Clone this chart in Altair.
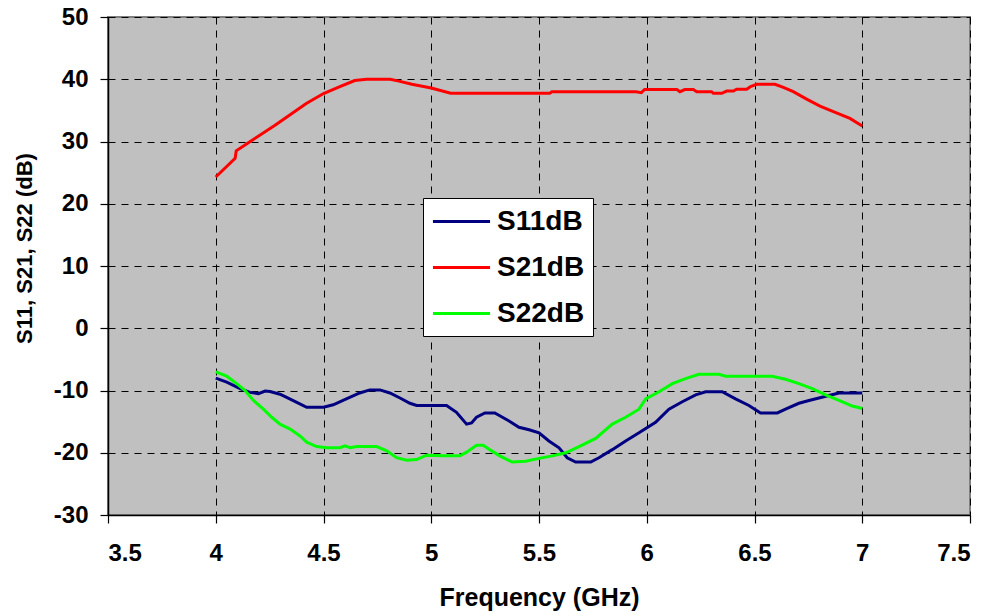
import altair as alt
import pandas as pd

# ---- data ----
series_names = ["S11dB", "S21dB", "S22dB"]
series_colors = ["#000080", "#FF0000", "#00FF00"]

s11_freq = [4.0, 4.051, 4.113, 4.159, 4.198, 4.229, 4.252, 4.298, 4.329, 4.376, 4.422, 4.5,
            4.545, 4.606, 4.668, 4.715, 4.762, 4.808, 4.855, 4.901, 4.932, 5.071, 5.117, 5.164,
            5.187, 5.21, 5.249, 5.295, 5.318, 5.361, 5.407, 5.454, 5.5, 5.546, 5.593, 5.631,
            5.67, 5.74, 5.778, 5.84, 5.902, 5.964, 6.041, 6.103, 6.165, 6.227, 6.273, 6.35,
            6.412, 6.474, 6.528, 6.606, 6.644, 6.706, 6.753, 6.799, 6.845, 6.892, 7.0]
s11_db = [-8.0, -8.65, -9.7, -10.3, -10.5, -10.1, -10.15, -10.6, -11.1, -11.9, -12.7, -12.7,
          -12.3, -11.35, -10.4, -9.9, -9.9, -10.4, -11.2, -12.05, -12.4, -12.4, -13.5, -15.4,
          -15.2, -14.3, -13.6, -13.6, -14.05, -14.9, -15.9, -16.3, -16.8, -18.1, -19.2, -20.8,
          -21.5, -21.5, -20.8, -19.5, -18.1, -16.8, -15.1, -13.0, -11.8, -10.7, -10.2, -10.2,
          -11.35, -12.4, -13.6, -13.6, -13.0, -12.05, -11.6, -11.2, -10.8, -10.4, -10.4]

s21_freq = [4.0, 4.09, 4.095, 4.16, 4.275, 4.345, 4.42, 4.5, 4.576, 4.645, 4.70, 4.81, 4.85,
            4.91, 5.0, 5.09, 5.55, 5.56, 5.95, 5.975, 5.99, 6.14, 6.154, 6.177, 6.216, 6.232,
            6.301, 6.309, 6.348, 6.371, 6.402, 6.417, 6.464, 6.48, 6.51, 6.595, 6.634, 6.68,
            6.742, 6.804, 6.866, 6.943, 7.0]
s21_db = [24.3, 27.3, 28.5, 30.0, 32.6, 34.3, 36.1, 37.7, 38.8, 39.8, 40.0, 40.0, 39.7,
          39.2, 38.6, 37.75, 37.75, 38.0, 38.0, 37.85, 38.35, 38.35, 38.0, 38.35, 38.35, 38.0,
          38.0, 37.75, 37.75, 38.1, 38.1, 38.4, 38.4, 38.8, 39.2, 39.2, 38.7, 38.0,
          36.8, 35.7, 34.8, 33.7, 32.5]

s22_freq = [4.0, 4.051, 4.097, 4.136, 4.175, 4.221, 4.26, 4.298, 4.345, 4.391, 4.422, 4.468,
            4.515, 4.576, 4.6, 4.623, 4.654, 4.747, 4.793, 4.839, 4.886, 4.932, 4.978, 5.056,
            5.133, 5.164, 5.21, 5.241, 5.272, 5.318, 5.376, 5.438, 5.5, 5.562, 5.624, 5.686,
            5.763, 5.84, 5.902, 5.964, 5.995, 6.057, 6.119, 6.18, 6.242, 6.335, 6.366, 6.582,
            6.644, 6.706, 6.768, 6.83, 6.892, 6.954, 7.0]
s22_db = [-7.0, -7.7, -8.9, -10.0, -11.6, -13.0, -14.3, -15.4, -16.2, -17.3, -18.3, -19.0,
          -19.2, -19.2, -18.9, -19.2, -19.0, -19.0, -19.7, -20.8, -21.2, -21.1, -20.4, -20.5,
          -20.5, -19.9, -18.8, -18.8, -19.5, -20.5, -21.5, -21.35, -20.9, -20.5, -20.0, -19.0,
          -17.7, -15.4, -14.3, -13.0, -11.35, -10.2, -8.9, -8.1, -7.4, -7.4, -7.7, -7.7,
          -8.2, -8.9, -9.7, -10.7, -11.6, -12.5, -12.9]

x_ticks = [3.5, 4.0, 4.5, 5.0, 5.5, 6.0, 6.5, 7.0, 7.5]
y_ticks = [-30, -20, -10, 0, 10, 20, 30, 40, 50]

rows = []
for name, fs, vs in [("S11dB", s11_freq, s11_db), ("S21dB", s21_freq, s21_db), ("S22dB", s22_freq, s22_db)]:
    for f, v in zip(fs, vs):
        rows.append({"series": name, "freq": f, "db": v})
df = pd.DataFrame(rows)

FONT = "Liberation Sans"

chart = alt.Chart(df).mark_line(strokeWidth=3).encode(
    x=alt.X("freq:Q",
            scale=alt.Scale(domain=[x_ticks[0], x_ticks[-1]], nice=False, zero=False),
            axis=alt.Axis(values=x_ticks, labelExpr="toString(datum.value)",
                          title="Frequency (GHz)", labelPadding=18,
                          titleFontSize=25, titleY=70, titleBaseline="top")),
    y=alt.Y("db:Q",
            scale=alt.Scale(domain=[y_ticks[0], y_ticks[-1]], nice=False, zero=False),
            axis=alt.Axis(values=y_ticks, labelExpr="toString(datum.value)",
                          title="S11, S21, S22 (dB)", labelPadding=12,
                          titleFontSize=22, titleX=-84, titleY=231, titleAngle=-90,
                          titleBaseline="middle", titleAlign="center")),
    color=alt.Color("series:N",
                    scale=alt.Scale(domain=series_names, range=series_colors),
                    legend=alt.Legend(title=None, orient="none", legendX=315, legendY=181,
                                      symbolType="M-2.04,0H2.04", symbolSize=784,
                                      symbolStrokeWidth=3, symbolOffset=15,
                                      labelFontSize=28, labelFont=FONT, labelFontWeight="bold",
                                      labelColor="black", labelOffset=20, padding=8, rowPadding=16,
                                      strokeColor="black", fillColor="white")),
).properties(
    width=862, height=498,
    autosize="none",
    padding={"left": 100, "top": 9, "right": 20, "bottom": 99},
).configure(
    background="white",
).configure_view(
    fill="#C0C0C0", stroke="#808080", strokeWidth=2,
).configure_axis(
    grid=True, gridColor="black", gridDash=[7, 6], gridWidth=1, gridOpacity=1,
    domainColor="black", domainWidth=1.5, tickColor="black", tickSize=8, tickWidth=1.2,
    labelFont=FONT, labelFontWeight="bold", labelFontSize=24, labelColor="black",
    titleFont=FONT, titleFontWeight="bold", titleColor="black",
)

chart.save("out.html", embed_options={"renderer": "svg", "actions": False})
